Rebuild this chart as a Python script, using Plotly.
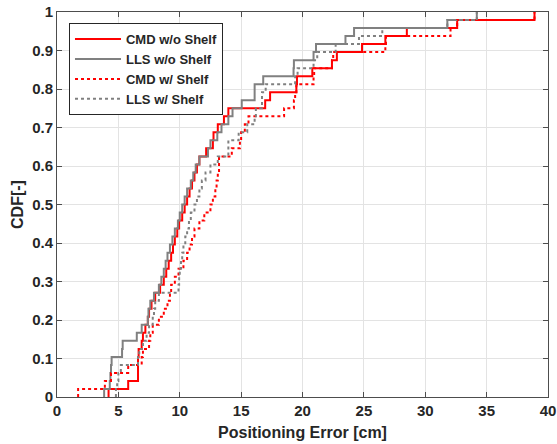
import plotly.graph_objects as go

# Sorted positioning errors [cm] for each method (48 test points each)
cmd_wo_shelf = [4.2, 5.8, 6.6, 6.6, 6.6, 6.65, 6.9, 7.0, 7.2, 7.4, 7.5, 7.7,
                8.0, 8.4, 8.7, 8.9, 9.1, 9.3, 9.45, 9.6, 9.8, 9.95, 10.2, 10.4,
                10.6, 10.8, 11.0, 11.2, 11.4, 11.6, 12.15, 12.7, 12.75, 13.1, 13.6, 13.96,
                16.96, 17.36, 19.5, 19.55, 20.8, 22.4, 22.8, 24.85, 26.75, 28.5, 32.6, 38.9]
lls_wo_shelf = [3.84, 4.3, 4.35, 4.4, 4.45, 5.3, 5.35, 6.5, 6.9, 7.4, 7.45, 7.6,
                7.9, 8.3, 8.5, 8.7, 8.85, 9.0, 9.2, 9.4, 9.6, 9.85, 10.0, 10.2,
                10.4, 10.6, 10.9, 11.1, 11.3, 11.6, 12.3, 12.5, 13.06, 13.4, 13.96, 14.3,
                15.05, 16.1, 16.1, 16.8, 19.27, 19.3, 20.9, 21.1, 23.5, 24.2, 31.8, 34.2]
cmd_w_shelf = [1.72, 3.9, 4.4, 5.8, 6.9, 7.0, 7.5, 7.6, 7.8, 8.3, 8.7, 9.0,
               9.2, 9.3, 9.6, 9.9, 10.3, 10.6, 10.8, 11.0, 11.2, 11.6, 12.0, 12.5,
               12.7, 12.9, 13.0, 13.1, 13.2, 13.2, 14.24, 14.9, 15.0, 15.3, 15.6, 18.5,
               19.3, 19.4, 19.5, 20.9, 20.95, 22.4, 22.5, 26.75, 26.8, 32.06, 32.6, 38.9]
lls_w_shelf = [4.8, 4.9, 5.0, 5.2, 6.6, 6.7, 7.0, 7.3, 7.5, 7.8, 7.9, 8.0,
               8.3, 9.9, 9.95, 10.0, 10.1, 10.2, 10.3, 10.45, 10.6, 10.75, 10.9, 11.2,
               11.4, 11.6, 11.8, 12.1, 12.5, 13.1, 13.96, 13.96, 14.8, 15.5, 16.1, 16.2,
               16.7, 16.7, 17.0, 19.4, 19.6, 20.9, 21.2, 22.7, 24.6, 26.5, 31.8, 34.2]

series_names = ["CMD w/o Shelf", "LLS w/o Shelf", "CMD w/ Shelf", "LLS w/ Shelf"]
series_data = [cmd_wo_shelf, lls_wo_shelf, cmd_w_shelf, lls_w_shelf]
series_colors = ["#ff0000", "#808080", "#ff0000", "#808080"]
series_dash = ["solid", "solid", "dot", "dot"]

x_ticks = [0, 5, 10, 15, 20, 25, 30, 35, 40]
y_ticks = [0, 0.1, 0.2, 0.3, 0.4, 0.5, 0.6, 0.7, 0.8, 0.9, 1]
y_tick_labels = ["0", "0.1", "0.2", "0.3", "0.4", "0.5", "0.6", "0.7", "0.8", "0.9", "1"]

FONT = "Liberation Sans, Arial, sans-serif"
TXT = "#262626"

fig = go.Figure()
for name, vals, col, dash in zip(series_names, series_data, series_colors, series_dash):
    v = sorted(vals)
    n = len(v)
    xs = [v[0]] + v
    ys = [0.0] + [(i + 1) / n for i in range(n)]
    fig.add_trace(go.Scatter(
        x=xs, y=ys, mode="lines", name=name,
        line=dict(color=col, width=2, dash=dash, shape="hv"),
    ))

axis_common = dict(
    automargin=False,
    showline=True, linecolor="#4d4d4d", linewidth=1, mirror="ticks",
    ticks="inside", ticklen=5, tickcolor="#4d4d4d", tickwidth=1,
    showgrid=True, gridcolor="#e3e3e3", gridwidth=1, zeroline=False,
    tickfont=dict(family=FONT, size=15, color=TXT, weight="bold"),
)

fig.update_layout(
    width=557, height=444,
    margin=dict(l=57, r=9, t=12, b=46.5, autoexpand=False),
    paper_bgcolor="white", plot_bgcolor="white",
    xaxis=dict(range=[0, 40], tickvals=x_ticks,
               title=dict(text="Positioning Error [cm]", standoff=8,
                          font=dict(family=FONT, size=16, color=TXT, weight="bold")),
               **axis_common),
    yaxis=dict(range=[0, 1], tickvals=y_ticks, ticktext=y_tick_labels,
               title=dict(text="CDF[-]", standoff=4,
                          font=dict(family=FONT, size=16, color=TXT, weight="bold")),
               **axis_common),
    legend=dict(x=0.0244, y=0.971, xanchor="left", yanchor="top",
                bgcolor="white", bordercolor="#262626", borderwidth=1,
                font=dict(family=FONT, size=13, color=TXT, weight="bold"),
                itemwidth=46, tracegroupgap=0),
    showlegend=True,
)

fig.write_html("out.html")
